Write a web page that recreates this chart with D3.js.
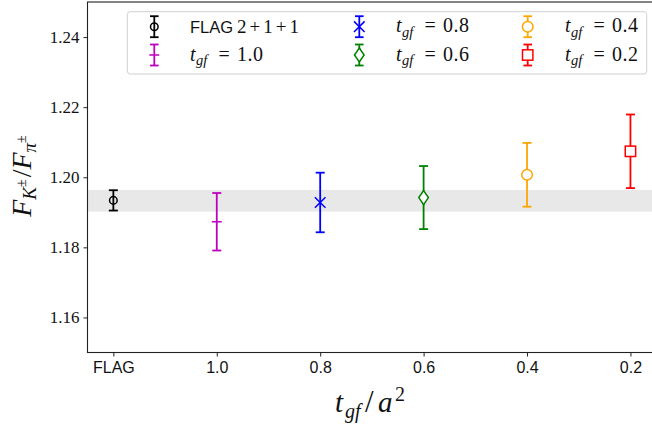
<!DOCTYPE html>
<html>
<head>
<meta charset="utf-8">
<script src="https://cdn.jsdelivr.net/npm/d3@7"></script>
<style>
  html, body { margin: 0; padding: 0; background: #fff; }
  svg { display: block; }
</style>
</head>
<body>
<svg id="chart" width="652" height="428"></svg>
<script>
// ---------------- data ----------------
const categories = ["FLAG", "1.0", "0.8", "0.6", "0.4", "0.2"];
const values     = [1.1934, 1.1873, 1.1928, 1.1942, 1.2007, 1.2074];
const errors     = [0.0029, 0.0082, 0.0085, 0.0090, 0.0091, 0.0105];
const seriesNames = ["FLAG 2+1+1", "1.0", "0.8", "0.6", "0.4", "0.2"];
const colors     = ["#000000", "#bf00bf", "#0000ff", "#008000", "#ffa500", "#ff0000"];
const markers    = ["circleSmall", "hline", "x", "diamond", "circle", "square"];
const bandLow = 1.1902, bandHigh = 1.1964;
const yTicks = [1.16, 1.18, 1.20, 1.22, 1.24];
const yDomain = [1.15, 1.25];

// ---------------- layout ----------------
const svg = d3.select("#chart");
const pL = 87.5, pT = 2, pB = 352.5, pR = 656.3;
const x = d3.scalePoint().domain(categories).range([pL, pR]).padding(0.25);
const y = d3.scaleLinear().domain(yDomain).range([pB, pT]);

const SERIF = "'Liberation Serif', 'DejaVu Serif', serif";
const SANS = "'Liberation Sans', 'DejaVu Sans', sans-serif";

// band
svg.append("rect")
  .attr("x", pL).attr("width", pR - pL)
  .attr("y", y(bandHigh)).attr("height", y(bandLow) - y(bandHigh))
  .attr("fill", "#e8e8e8");

// axes
const yAxis = svg.append("g").attr("transform", `translate(${pL},0)`)
  .call(d3.axisLeft(y).tickValues(yTicks).tickFormat(d3.format(".2f")).tickSize(4).tickPadding(4));
yAxis.select(".domain").remove();
yAxis.selectAll("line").attr("stroke", "#222").attr("stroke-width", 1);
yAxis.selectAll("text").attr("font-family", SERIF).attr("font-size", 17).attr("fill", "#111");

const xAxis = svg.append("g").attr("transform", `translate(0,${pB})`)
  .call(d3.axisBottom(x).tickSize(4).tickPadding(5));
xAxis.select(".domain").remove();
xAxis.selectAll("line").attr("stroke", "#222").attr("stroke-width", 1);
xAxis.selectAll("text").attr("font-family", SANS).attr("font-size", 16).attr("fill", "#111");

// spines
svg.append("rect").attr("x", pL).attr("y", pT)
  .attr("width", pR - pL).attr("height", pB - pT)
  .attr("fill", "none").attr("stroke", "#222").attr("stroke-width", 1.1);

// ---------------- marker drawing ----------------
function drawMarker(g, type, cx, cy, color) {
  const sw = 1.5;
  if (type === "circleSmall") {
    g.append("circle").attr("cx", cx).attr("cy", cy).attr("r", 3.8)
      .attr("fill", "none").attr("stroke", color).attr("stroke-width", sw);
  } else if (type === "circle") {
    g.append("circle").attr("cx", cx).attr("cy", cy).attr("r", 5.3)
      .attr("fill", "#fff").attr("stroke", color).attr("stroke-width", sw);
  } else if (type === "square") {
    g.append("rect").attr("x", cx - 5.2).attr("y", cy - 5.2).attr("width", 10.4).attr("height", 10.4)
      .attr("fill", "#fff").attr("stroke", color).attr("stroke-width", sw);
  } else if (type === "diamond") {
    g.append("path").attr("d", `M${cx},${cy - 7} L${cx + 4.8},${cy} L${cx},${cy + 7} L${cx - 4.8},${cy} Z`)
      .attr("fill", "#fff").attr("stroke", color).attr("stroke-width", sw);
  } else if (type === "x") {
    const s = 5.3;
    g.append("path").attr("d", `M${cx - s},${cy - s} L${cx + s},${cy + s} M${cx - s},${cy + s} L${cx + s},${cy - s}`)
      .attr("fill", "none").attr("stroke", color).attr("stroke-width", sw);
  } else if (type === "hline") {
    g.append("line").attr("x1", cx - 5).attr("x2", cx + 5).attr("y1", cy).attr("y2", cy)
      .attr("stroke", color).attr("stroke-width", sw);
  }
}
function drawErrorBar(g, cx, y1, y2, color, capHalf) {
  g.append("line").attr("x1", cx).attr("x2", cx).attr("y1", y1).attr("y2", y2)
    .attr("stroke", color).attr("stroke-width", 1.8);
  [y1, y2].forEach(yy => g.append("line").attr("x1", cx - capHalf).attr("x2", cx + capHalf)
    .attr("y1", yy).attr("y2", yy).attr("stroke", color).attr("stroke-width", 1.8));
}

// points
const pts = svg.append("g");
categories.forEach((c, i) => {
  const g = pts.append("g");
  const cx = x(c);
  drawErrorBar(g, cx, y(values[i] + errors[i]), y(values[i] - errors[i]), colors[i], 4.5);
  drawMarker(g, markers[i], cx, y(values[i]), colors[i]);
});

// ---------------- math text helper ----------------
function mathText(parent, xx, yy, parts, anchor) {
  const t = parent.append("text").attr("x", xx).attr("y", yy)
    .attr("text-anchor", anchor || "start").attr("fill", "#111");
  parts.forEach(p => {
    const s = t.append("tspan").text(p.t)
      .attr("font-family", p.sans ? SANS : SERIF)
      .attr("font-size", p.size)
      .attr("font-style", p.it ? "italic" : "normal");
    if (p.ax !== undefined) s.attr("x", xx + p.ax);
    if (p.dy) s.attr("dy", p.dy);
    if (p.dx) s.attr("dx", p.dx);
    if (p.len) s.attr("textLength", p.len).attr("lengthAdjust", "spacing");
  });
  return t;
}

// ---------------- legend ----------------
const leg = svg.append("g");
leg.append("rect").attr("x", 127.3).attr("y", 11.7).attr("width", 519.4).attr("height", 62.3)
  .attr("rx", 3).attr("fill", "#fff").attr("fill-opacity", 0.8)
  .attr("stroke", "#d0d0d0").attr("stroke-width", 1);

const legMarkerX = [154.3, 154.3, 359.3, 359.3, 527.7, 527.7];
const legTextX   = [190, 190, 396, 396, 565, 565];
const legRowY    = [26.7, 55, 26.7, 55, 26.7, 55];
seriesNames.forEach((name, i) => {
  const g = leg.append("g");
  const cx = legMarkerX[i], cy = legRowY[i];
  drawErrorBar(g, cx, cy - 10.5, cy + 10.5, colors[i], 4.3);
  drawMarker(g, markers[i], cx, cy, colors[i]);
  if (i === 0) {
    mathText(g, legTextX[i], cy + 6.5, [
      {t: "FLAG", sans: true, size: 16.5},
      {t: "2+1+1", size: 19, ax: 47, len: 62}
    ]);
  } else {
    mathText(g, legTextX[i], cy + 5.5, [
      {t: "t", it: true, size: 20},
      {t: "gf", it: true, size: 14.5, dy: 4.5, dx: 0.5},
      {t: "=", size: 20, dy: -4.5, ax: 28.5},
      {t: name, size: 20, ax: 47, len: 26}
    ]);
  }
});

// ---------------- axis labels ----------------
mathText(svg, 335, 412, [
  {t: "t", it: true, size: 29},
  {t: "gf", it: true, size: 20, dy: 6, ax: 10},
  {t: "/", size: 31, dy: -6, ax: 30},
  {t: "a", it: true, size: 29, ax: 43},
  {t: "2", size: 20, dy: -11, ax: 60}
]);

const yl = svg.append("g").attr("transform", "translate(31,176) rotate(-90)");
mathText(yl, 0, 0, [
  {t: "F", it: true, size: 28},
  {t: "K", it: true, size: 19, dy: 5},
  {t: "±", size: 14, dy: -10},
  {t: "/", size: 28, dy: 5, dx: 2},
  {t: "F", it: true, size: 28},
  {t: "π", it: true, size: 19, dy: 5},
  {t: "±", size: 14, dy: -10}
], "middle");
</script>
</body>
</html>
